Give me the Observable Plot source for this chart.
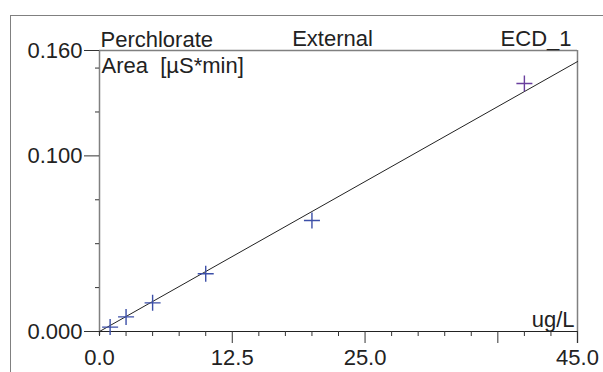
<!DOCTYPE html>
<html>
<head>
<meta charset="utf-8">
<script src="https://cdn.jsdelivr.net/npm/d3@7"></script>
<script src="https://cdn.jsdelivr.net/npm/@observablehq/plot@0.6"></script>
<style>
  html, body { margin: 0; padding: 0; background: #fff; }
  #wrap { position: relative; width: 603px; height: 372px; overflow: hidden; }
  #wrap svg { position: absolute; left: 0; top: 0; }
  #border { position: absolute; left: 10px; top: 15px; right: -5px; bottom: -5px;
            border-left: 1.5px solid #808080; border-top: 1.5px solid #808080; pointer-events: none; }
</style>
</head>
<body>
<div id="wrap"><div id="border"></div></div>
<script>
// ---- data ----
const concentration = [1, 2.5, 5, 10, 20, 40];          // ug/L
const area = [0.0025, 0.0083, 0.0163, 0.0329, 0.0632, 0.1412]; // µS*min
const pointColor = ["#3c4fa8", "#3c4fa8", "#3c4fa8", "#3c4fa8", "#3c4fa8", "#6a3f9e"];
const fitX = [0, 45];
const fitY = [0, 0.1537];

const title = "Perchlorate";
const method = "External";
const detector = "ECD_1";
const yLabel = "Area  [µS*min]";
const xLabel = "ug/L";

const xLabelTicks = [0, 12.5, 25, 45];
const xMajorTicks = [12.5, 25, 37.5, 45];
const xMinorTicks = [0, 2.5, 5, 7.5, 10, 15, 17.5, 20, 22.5, 27.5, 30, 32.5, 35, 40, 42.5];
const yMajorTicks = [0, 0.1, 0.16];
const yMinorTicks = [0.025, 0.05, 0.075, 0.125, 0.15];

const points = concentration.map((c, i) => ({x: c, y: area[i], color: pointColor[i]}));
const fit = fitX.map((x, i) => ({x, y: fitY[i]}));

const plusSymbol = {
  draw(context, size) {
    const s = Math.sqrt(size / Math.PI);
    context.moveTo(-s, 0); context.lineTo(s, 0);
    context.moveTo(0, -s); context.lineTo(0, s);
  }
};

const chart = Plot.plot({
  width: 603,
  height: 372,
  marginLeft: 99,
  marginRight: 26,
  marginTop: 50,
  marginBottom: 41,
  style: {fontFamily: "'Liberation Sans', Arial, sans-serif", fontSize: "22px", color: "#222", background: "transparent"},
  x: {domain: [0, 45]},
  y: {domain: [0, 0.16]},
  marks: [
    // frame edges
    Plot.ruleY([0.16], {stroke: "#808080", strokeWidth: 1.5}),
    Plot.ruleX([45], {stroke: "#808080", strokeWidth: 1.5, y1: 0.16, y2: 0, insetBottom: -12}),
    Plot.ruleX([0], {stroke: "#808080", strokeWidth: 1.5, insetBottom: -4}),
    Plot.ruleY([0], {stroke: "#222", strokeWidth: 1.2}),
    // y axis
    Plot.axisY({ticks: yMajorTicks, tickSize: 15, tickPadding: 2, tickFormat: d3.format(".3f"), label: null, stroke: "#333"}),
    Plot.axisY({ticks: yMinorTicks, tickSize: 4, tickFormat: () => "", label: null, stroke: "#333"}),
    // x axis
    Plot.axisX({ticks: xMajorTicks, tickSize: 12, tickFormat: () => "", label: null, stroke: "#333"}),
    Plot.axisX({ticks: xMinorTicks, tickSize: 5, tickFormat: () => "", label: null, stroke: "#333"}),
    Plot.axisX({ticks: xLabelTicks, tickSize: 0, tickPadding: 18, tickFormat: d3.format(".1f"), label: null}),
    // fit line
    Plot.line(fit, {x: "x", y: "y", stroke: "#222", strokeWidth: 1}),
    // calibration points
    Plot.dot(points, {x: "x", y: "y", symbol: plusSymbol, r: 8, stroke: "color", fill: "none", strokeWidth: 1.4}),
    // texts
    Plot.text([title], {frameAnchor: "top-left", textAnchor: "start", lineAnchor: "bottom", dx: 1, dy: -4, fill: "#222"}),
    Plot.text([method], {frameAnchor: "top", textAnchor: "middle", lineAnchor: "bottom", dx: -6, dy: -5, fill: "#222"}),
    Plot.text([detector], {frameAnchor: "top-right", textAnchor: "end", lineAnchor: "bottom", dx: -6, dy: -5, fill: "#222"}),
    Plot.text([yLabel], {frameAnchor: "top-left", textAnchor: "start", lineAnchor: "bottom", dx: 2, dy: 22, fill: "#222"}),
    Plot.text([xLabel], {frameAnchor: "bottom-right", textAnchor: "end", lineAnchor: "bottom", dx: -3, dy: -5, fill: "#222"})
  ]
});
chart.querySelectorAll("text").forEach(t => t.setAttribute("xml:space", "preserve"));
chart.style.whiteSpace = "pre";
document.getElementById("wrap").prepend(chart);
</script>
</body>
</html>
